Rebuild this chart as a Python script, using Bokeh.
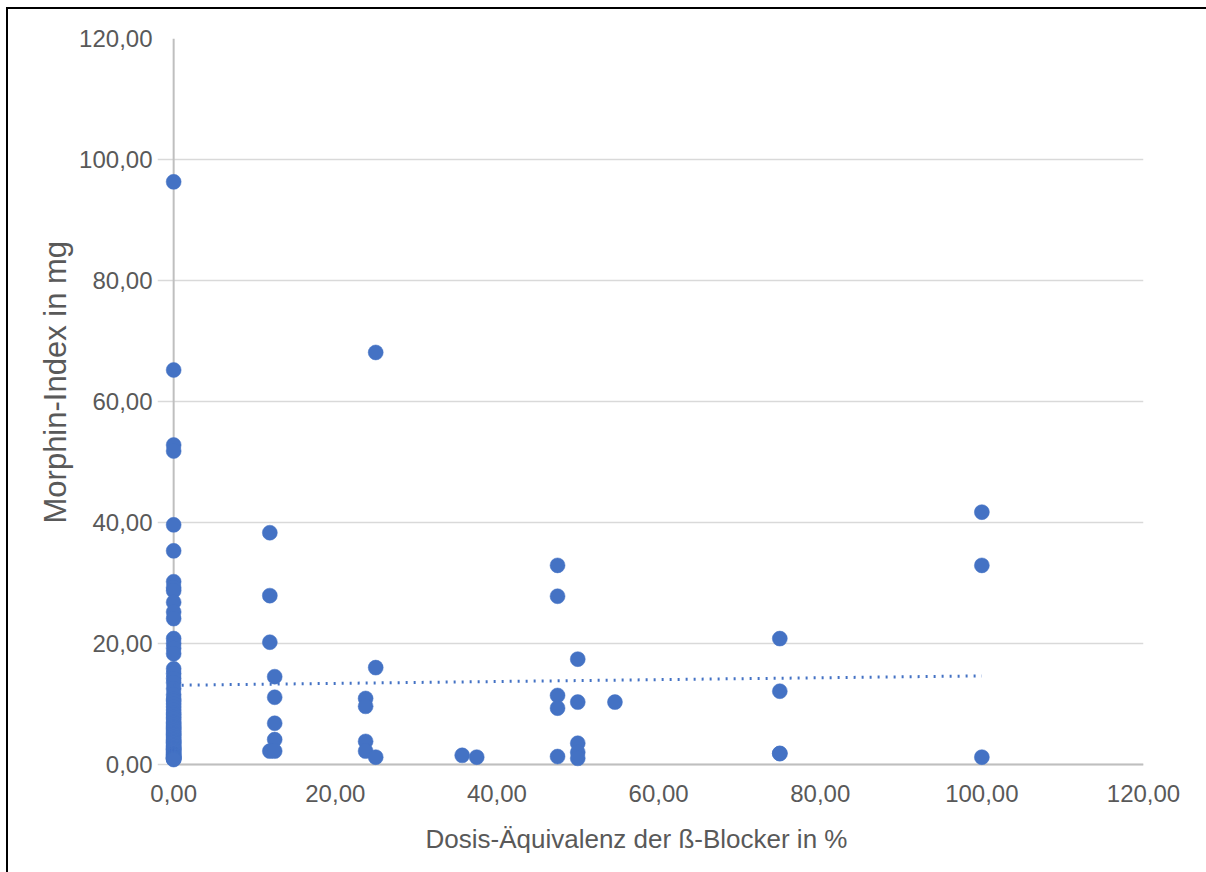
import numpy as np
from bokeh.plotting import figure
from bokeh.models import Range1d, FixedTicker, CustomJSTickFormatter, Title
from bokeh.embed import file_html
from bokeh.resources import INLINE

# Dose equivalence of beta blockers (%) and morphine index (mg)
morph_zero = [96.3, 65.2, 52.8, 51.8, 39.6, 35.3, 30.2, 29.2, 28.7, 26.8, 25.2, 24.1,
              20.8, 20.0, 19.2, 18.3, 15.8, 15.0, 14.2, 13.5, 12.5, 11.5, 10.8, 10.5,
              10.0, 9.5, 9.0, 8.5, 8.2, 7.8, 7.5, 7.0, 6.8, 6.5, 6.2, 6.0, 5.8, 5.5,
              5.2, 5.0, 4.8, 4.5, 4.2, 4.0, 3.8, 3.6, 3.5, 3.2, 3.0, 2.8, 2.6, 2.5,
              2.4, 2.2, 2.0, 1.8, 1.6, 1.5, 1.3, 1.2, 1.1, 1.0, 1.0, 0.9, 0.8]
dose_zero = [0.0] * len(morph_zero)

dose_other = [11.9, 11.9, 11.9, 12.5, 12.5, 12.5, 12.5, 11.9, 12.5,
              23.75, 23.75, 23.75, 23.75, 25.0, 25.0, 25.0,
              35.7, 37.5,
              47.5, 47.5, 50.0, 47.5, 47.5, 50.0, 54.6, 47.5, 50.0, 50.0, 50.0,
              75.0, 75.0, 75.0, 75.0,
              100.0, 100.0, 100.0]
morph_other = [38.3, 27.9, 20.2, 14.5, 11.1, 6.8, 4.1, 2.2, 2.2,
               10.9, 9.6, 3.8, 2.2, 1.2, 16.0, 68.1,
               1.5, 1.2,
               32.9, 27.8, 17.4, 11.4, 9.3, 10.3, 10.3, 1.3, 3.5, 2.0, 1.0,
               20.8, 12.1, 1.8, 1.8,
               41.7, 32.9, 1.2]

ticks = [0, 20, 40, 60, 80, 100, 120]
x_title = "Dosis-Äquivalenz der ß-Blocker in %"
y_title = "Morphin-Index in mg"

dose = np.array(dose_zero + dose_other)
morph = np.array(morph_zero + morph_other)

FONT = "Liberation Sans"
GRAY = "#595959"
BLUE = "#4472C4"
W, H = 1206, 872

p = figure(width=W, height=H, output_backend="svg", toolbar_location=None,
           x_range=Range1d(-2, 120), y_range=Range1d(-2, 120),
           min_border_left=157, min_border_right=63, min_border_top=38, min_border_bottom=96)
# outer chart border on the left and top edges only
p.styles = {"box-shadow": "inset 6px 7px 0 0 white, inset 8px 9px 0 0 black"}
p.outline_line_color = None
p.background_fill_color = None
p.border_fill_color = None

for ax in (p.xaxis[0], p.yaxis[0]):
    ax.ticker = FixedTicker(ticks=ticks)
    ax.formatter = CustomJSTickFormatter(code="return tick.toFixed(2).replace('.', ',');")
    ax.axis_line_color = None
    ax.major_tick_line_color = None
    ax.minor_tick_line_color = None
    ax.major_tick_out = 0
    ax.major_tick_in = 0
    ax.minor_tick_out = 0
    ax.major_label_text_font = FONT
    ax.major_label_text_font_size = "24px"
    ax.major_label_text_color = GRAY

p.xaxis.major_label_standoff = 8
p.yaxis.major_label_standoff = 5

p.xgrid.grid_line_color = None
p.ygrid.ticker = FixedTicker(ticks=ticks)
p.ygrid.grid_line_color = "#D9D9D9"
p.ygrid.grid_line_width = 1.5

# axis titles
p.add_layout(Title(text=x_title, align="left", offset=268, standoff=34,
                   text_font=FONT, text_font_size="26px", text_color=GRAY,
                   text_font_style="normal"), "below")
p.add_layout(Title(text=y_title, align="left", offset=253, standoff=8,
                   text_font=FONT, text_font_size="31px", text_color=GRAY,
                   text_font_style="normal"), "left")

# axis lines
p.line(x=[0, 0], y=[0, 120], line_color="#BFBFBF", line_width=2)
p.line(x=[0, 120], y=[0, 0], line_color="#BFBFBF", line_width=2)

p.scatter(dose, morph, size=15, fill_color=BLUE, line_color=BLUE, line_width=0.5)

# linear trendline
slope, intercept = np.polyfit(dose, morph, 1)
tx = np.array([0, 100])
p.line(tx, intercept + slope * tx, line_color=BLUE, line_width=3, line_dash="2 6")

open("out.html", "w").write(file_html(p, INLINE))
